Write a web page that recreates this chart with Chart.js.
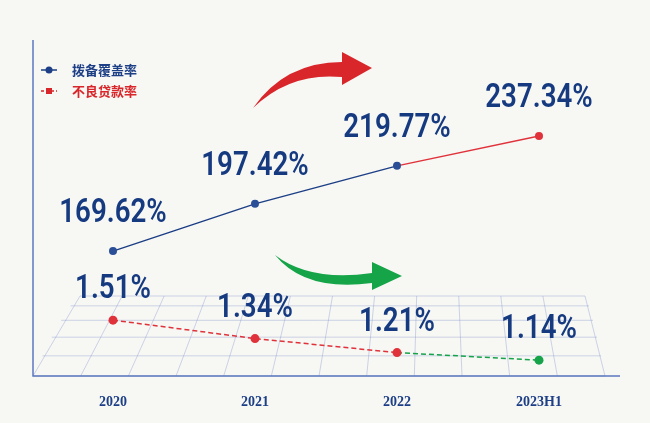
<!DOCTYPE html>
<html><head><meta charset="utf-8">
<script src="https://cdn.jsdelivr.net/npm/chart.js@4/dist/chart.umd.min.js"></script>
<style>body{margin:0;background:#f7f7f4}#wrap{width:650px;height:423px}</style>
</head><body><div id="wrap"><canvas id="myChart"></canvas></div>
<script>
var years = ["2020", "2021", "2022", "2023H1"];
var coverage = [169.62, 197.42, 219.77, 237.34];
var nplRatio = [1.51, 1.34, 1.21, 1.14];
var seriesNames = ["拨备覆盖率", "不良贷款率"];

// perspective floor, axes, arrows, legend, labels
const decor = {
  id: 'decor',
  beforeDatasetsDraw(chart) {
    const c = chart.ctx;
    c.save();
    c.strokeStyle = 'rgba(120,140,200,0.35)'; c.lineWidth = 1;
    const bY = 296, fY = 376, bL = 80, bR = 585, fL = 33, fR = 605;
    for (let i = 0; i <= 5; i++) {
      const t = i / 5, y = bY + (fY - bY) * Math.pow(t, 1.3);
      const l = bL + (fL - bL) * t, r = bR + (fR - bR) * t;
      c.beginPath(); c.moveTo(l, y); c.lineTo(r, y); c.stroke();
    }
    for (let i = 0; i <= 12; i++) {
      const t = i / 12;
      c.beginPath(); c.moveTo(bL + (bR - bL) * t, bY);
      c.lineTo(fL + (fR - fL) * t, fY); c.stroke();
    }
    c.strokeStyle = '#5b78c0'; c.lineWidth = 1.5;
    c.beginPath(); c.moveTo(33, 40); c.lineTo(33, 376); c.lineTo(620, 376); c.stroke();
    // arrows
    function arrow(col, pts, tip) {
      c.fillStyle = col; c.beginPath(); c.moveTo(pts[0][0], pts[0][1]);
      c.quadraticCurveTo(pts[1][0], pts[1][1], pts[2][0], pts[2][1]);
      c.lineTo(tip[0][0], tip[0][1]); c.lineTo(tip[1][0], tip[1][1]); c.lineTo(tip[2][0], tip[2][1]);
      c.lineTo(pts[3][0], pts[3][1]);
      c.quadraticCurveTo(pts[4][0], pts[4][1], pts[0][0], pts[0][1]); c.fill();
    }
    arrow('#d9262a', [[253,108],[285,62],[342,62],[342,77],[290,72]], [[342,52],[372,68],[342,85]]);
    arrow('#15a447', [[275,255],[310,282],[372,273],[372,283],[305,292]], [[372,262],[402,276],[372,290]]);
    // legend
    c.font = 'bold 13px "Noto Sans CJK SC"'; c.textBaseline = 'middle';
    [['#1d3f86', 70], ['#d9262a', 91]].forEach((p, i) => {
      c.strokeStyle = p[0]; c.fillStyle = p[0]; c.lineWidth = 1.5;
      if (i) c.setLineDash([3, 2]);
      c.beginPath(); c.moveTo(41, p[1]); c.lineTo(57, p[1]); c.stroke(); c.setLineDash([]);
      if (i) c.fillRect(46, p[1] - 3, 6, 6); else { c.beginPath(); c.arc(49, p[1], 3.5, 0, 7); c.fill(); }
      c.fillText(seriesNames[i], 72, p[1]);
    });
    c.restore();
  },
  afterDatasetsDraw(chart) {
    const c = chart.ctx;
    c.save(); c.fillStyle = '#163a80'; c.textAlign = 'center'; c.textBaseline = 'alphabetic';
    c.font = '600 33px Roboto, sans-serif';
    function lbl(txt, x, y) { c.save(); c.translate(x, y); c.scale(0.84, 1); c.fillText(txt, 0, 0); c.restore(); }
    chart.getDatasetMeta(0).data.forEach((p, i) => lbl(coverage[i].toFixed(2) + '%', p.x, p.y - 29));
    chart.getDatasetMeta(1).data.forEach((p, i) => lbl(nplRatio[i].toFixed(2) + '%', p.x, p.y - 22));
    c.restore();
  }
};

new Chart('myChart', {
  type: 'line',
  data: {
    labels: years,
    datasets: [{
      label: seriesNames[0], data: coverage, yAxisID: 'yA',
      borderColor: '#1d3f86', borderWidth: 1.5, pointRadius: 4,
      pointBackgroundColor: ['#2b4f97', '#2b4f97', '#2b4f97', '#e0323a'], pointBorderWidth: 0,
      segment: { borderColor: ctx => ctx.p1DataIndex === 3 ? '#e0323a' : '#1d3f86' }
    }, {
      label: seriesNames[1], data: nplRatio, yAxisID: 'yB',
      borderColor: '#e0323a', borderWidth: 1.5, borderDash: [5, 3], pointRadius: 4.5,
      pointBackgroundColor: ['#e0323a', '#e0323a', '#e0323a', '#16a34a'], pointBorderWidth: 0,
      segment: { borderColor: ctx => ctx.p1DataIndex === 3 ? '#16a34a' : '#e0323a' }
    }]
  },
  options: {
    responsive: true, maintainAspectRatio: false, animation: false,
    layout: { padding: { left: 42, right: 40, top: 20, bottom: 2 } },
    plugins: { legend: { display: false }, tooltip: { enabled: false } },
    scales: {
      x: { offset: true, grid: { display: false }, border: { display: false },
           ticks: { color: '#1d3f86', font: { family: '"Liberation Serif", serif', size: 14, weight: 'bold' }, padding: 10 } },
      yA: { display: false, min: 96, max: 305.6 },
      yB: { display: false, min: 0.992, max: 4.285 }
    }
  },
  plugins: [decor]
});
</script></body></html>
